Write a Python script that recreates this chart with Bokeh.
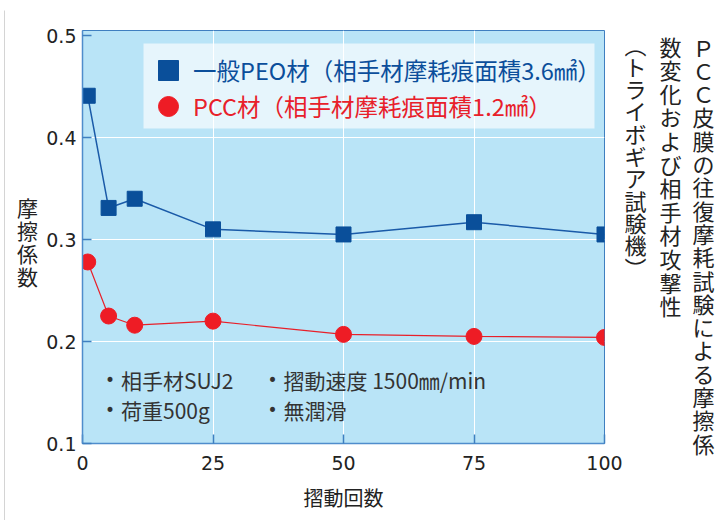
from bokeh.plotting import figure
from bokeh.layouts import row, column
from bokeh.models import Legend, LegendItem, Label, BoxAnnotation, FixedTicker, Range1d
from bokeh.core.properties import value
from bokeh.embed import file_html
from bokeh.resources import INLINE

# ---- data ----
strokes = [1, 5, 10, 25, 50, 75, 100]
peo_mu = [0.441, 0.331, 0.340, 0.310, 0.305, 0.317, 0.305]
pcc_mu = [0.278, 0.225, 0.216, 0.220, 0.207, 0.205, 0.204]
x_ticks = [0, 25, 50, 75, 100]
y_ticks = [0.1, 0.2, 0.3, 0.4, 0.5]
y_tick_labels = ["0.1", "0.2", "0.3", "0.4", "0.5"]
legend_labels = ["一般PEO材（相手材摩耗痕面積3.6㎟）", "PCC材（相手材摩耗痕面積1.2㎟）"]
notes = ["相手材SUJ2", "摺動速度 1500㎜/min", "荷重500g", "無潤滑"]
title_cols = ["ＰＣＣ皮膜の往復摩耗試験による摩擦係", "数変化および相手材攻撃性", "︵トライボギア試験機︶"]
y_label = "摩擦係数"
x_label = "摺動回数"

FONT = "Noto Sans CJK JP"
NUM_FONT = "DejaVu Sans"
X0, X1 = 0, 100
Y0, Y1 = 0.1, 0.505
TOTAL_W, TOTAL_H = 724, 520
TOP_H = 10                       # strip holding the grey frame line
ROW_H = TOTAL_H - TOP_H
LINE_W = 5                       # thin figure holding the left frame line
LEFT_W = 40                      # left label column ends here (page x)
MAIN_R = 624                     # main figure ends here (page x)
FL, FR, FT, FB = 82, 604, 30, 443   # plot frame in page pixels

def dx(px):
    return X0 + (px - FL) * (X1 - X0) / (FR - FL)

def dy(py):
    return Y0 + (FB - py) * (Y1 - Y0) / (FB - FT)

def blank(w, h, **kw):
    f = figure(width=w, height=h, output_backend="svg", toolbar_location=None,
               x_axis_type=None, y_axis_type=None, min_border=0, frame_align=False, **kw)
    f.outline_line_color = None
    f.grid.visible = False
    return f

# grey outer frame lines (drawn as figure backgrounds)
top_strip = blank(TOTAL_W, TOP_H, min_border_left=4, min_border_top=9)
top_strip.background_fill_color = "#aaaaaa"
top_strip.border_fill_color = "white"
left_line = blank(LINE_W, ROW_H, min_border_left=4)
left_line.background_fill_color = "#aaaaaa"
left_line.border_fill_color = "white"

# ---- main plot ----
main_w = MAIN_R - LEFT_W
p = figure(width=main_w, height=ROW_H, output_backend="svg", toolbar_location=None,
           x_range=Range1d(X0, X1), y_range=Range1d(Y0, Y1), frame_align=False,
           min_border_left=FL - LEFT_W, min_border_right=MAIN_R - FR,
           min_border_top=FT - TOP_H, min_border_bottom=TOTAL_H - FB)

p.background_fill_color = "#b9e4f7"
p.border_fill_color = "white"
p.outline_line_color = "#3f7fc0"
p.outline_line_width = 1

p.xgrid.ticker = FixedTicker(ticks=[t for t in x_ticks if X0 < t < X1])
p.ygrid.ticker = FixedTicker(ticks=[t for t in y_ticks if Y0 < t < 0.5])
p.grid.grid_line_color = "white"
p.grid.grid_line_width = 1

p.xaxis.ticker = FixedTicker(ticks=x_ticks)
p.yaxis.ticker = FixedTicker(ticks=y_ticks)
p.yaxis.major_label_overrides = {t: s for t, s in zip(y_ticks, y_tick_labels)}
p.axis.major_tick_in = 9
p.axis.major_tick_out = 0
p.axis.minor_tick_line_color = None
p.axis.axis_line_color = "#4f8dcc"
p.axis.axis_line_width = 1.5
p.axis.major_tick_line_color = "#3f7fc0"
p.axis.major_tick_line_width = 1.5
p.axis.major_label_text_font = NUM_FONT
p.axis.major_label_text_font_size = "19px"
p.axis.major_label_text_color = "#222222"
p.xaxis.major_label_standoff = 12
p.yaxis.major_label_standoff = 6
p.xaxis.axis_label = x_label
p.xaxis.axis_label_text_font = FONT
p.xaxis.axis_label_text_font_size = "20px"
p.xaxis.axis_label_text_font_style = "normal"
p.xaxis.axis_label_text_color = "#222222"
p.xaxis.axis_label_standoff = 10

# series
p.line(strokes, peo_mu, line_color="#1a5aa8", line_width=1.5)
p.line(strokes, pcc_mu, line_color="#e8202a", line_width=1.2)
r_peo = p.scatter(strokes, peo_mu, marker="square", size=15, fill_color="#0a4f9a", line_color="#0a4f9a")
r_pcc = p.scatter(strokes, pcc_mu, marker="circle", size=16, fill_color="#ee1c25", line_color="#ee1c25")

# legend background
p.add_layout(BoxAnnotation(left=dx(143), right=dx(594), top=dy(43), bottom=dy(128),
                           fill_color="white", fill_alpha=0.64, line_alpha=0))

for i, (lab, r, col) in enumerate(zip(legend_labels, [r_peo, r_pcc], ["#0b4e9b", "#e8202a"])):
    row_center = 70 + 36 * i
    leg = Legend(items=[LegendItem(label=lab, renderers=[r])],
                 location=(143 - FL, FB - (row_center + 25)),
                 glyph_width=50, glyph_height=50, padding=0, margin=0, spacing=0,
                 label_standoff=-7, label_text_font=FONT, label_text_font_size="23.5px",
                 label_text_color=col, background_fill_alpha=0, border_line_alpha=0)
    p.add_layout(leg)

# notes inside the plot
note_pos = [(109.5, 379), (272, 379), (109.5, 409), (272, 409)]
for txt, (px, py) in zip(notes, note_pos):
    p.add_layout(Label(x=dx(px), y=dy(py), text="•", text_align="center", text_baseline="middle",
                       text_font=NUM_FONT, text_font_size="17px", text_color="#333333"))
    p.add_layout(Label(x=dx(px + 11), y=dy(py), text=txt, text_align="left", text_baseline="middle",
                       text_font=FONT, text_font_size="21px", text_color="#333333"))

# ---- left label column (vertical, upright characters) ----
lw = LEFT_W - LINE_W
left = blank(lw, ROW_H, x_range=Range1d(0, lw), y_range=Range1d(ROW_H, 0))
left.text(x=[27 - LINE_W] * len(y_label), y=[206 + 23 * i - TOP_H for i in range(len(y_label))],
          text=list(y_label), text_align="center", text_baseline="middle",
          text_font=value(FONT), text_font_size="21px", text_color="#222222")

# ---- right title columns ----
rw = TOTAL_W - MAIN_R
right = blank(rw, ROW_H, x_range=Range1d(0, rw), y_range=Range1d(ROW_H, 0))
col_specs = [(703, 46, 23.3), (670, 45, 23.6), (635, 43, 22.3)]
for col_text, (cx, y_start, pitch) in zip(title_cols, col_specs):
    n = len(col_text)
    right.text(x=[cx - MAIN_R] * n, y=[y_start + pitch * j - TOP_H for j in range(n)],
               text=list(col_text), text_align="center", text_baseline="middle",
               text_font=value(FONT), text_font_size="22px", text_color="#222222")

layout = column(top_strip, row(left_line, left, p, right))
open("out.html", "w").write(file_html(layout, INLINE))
